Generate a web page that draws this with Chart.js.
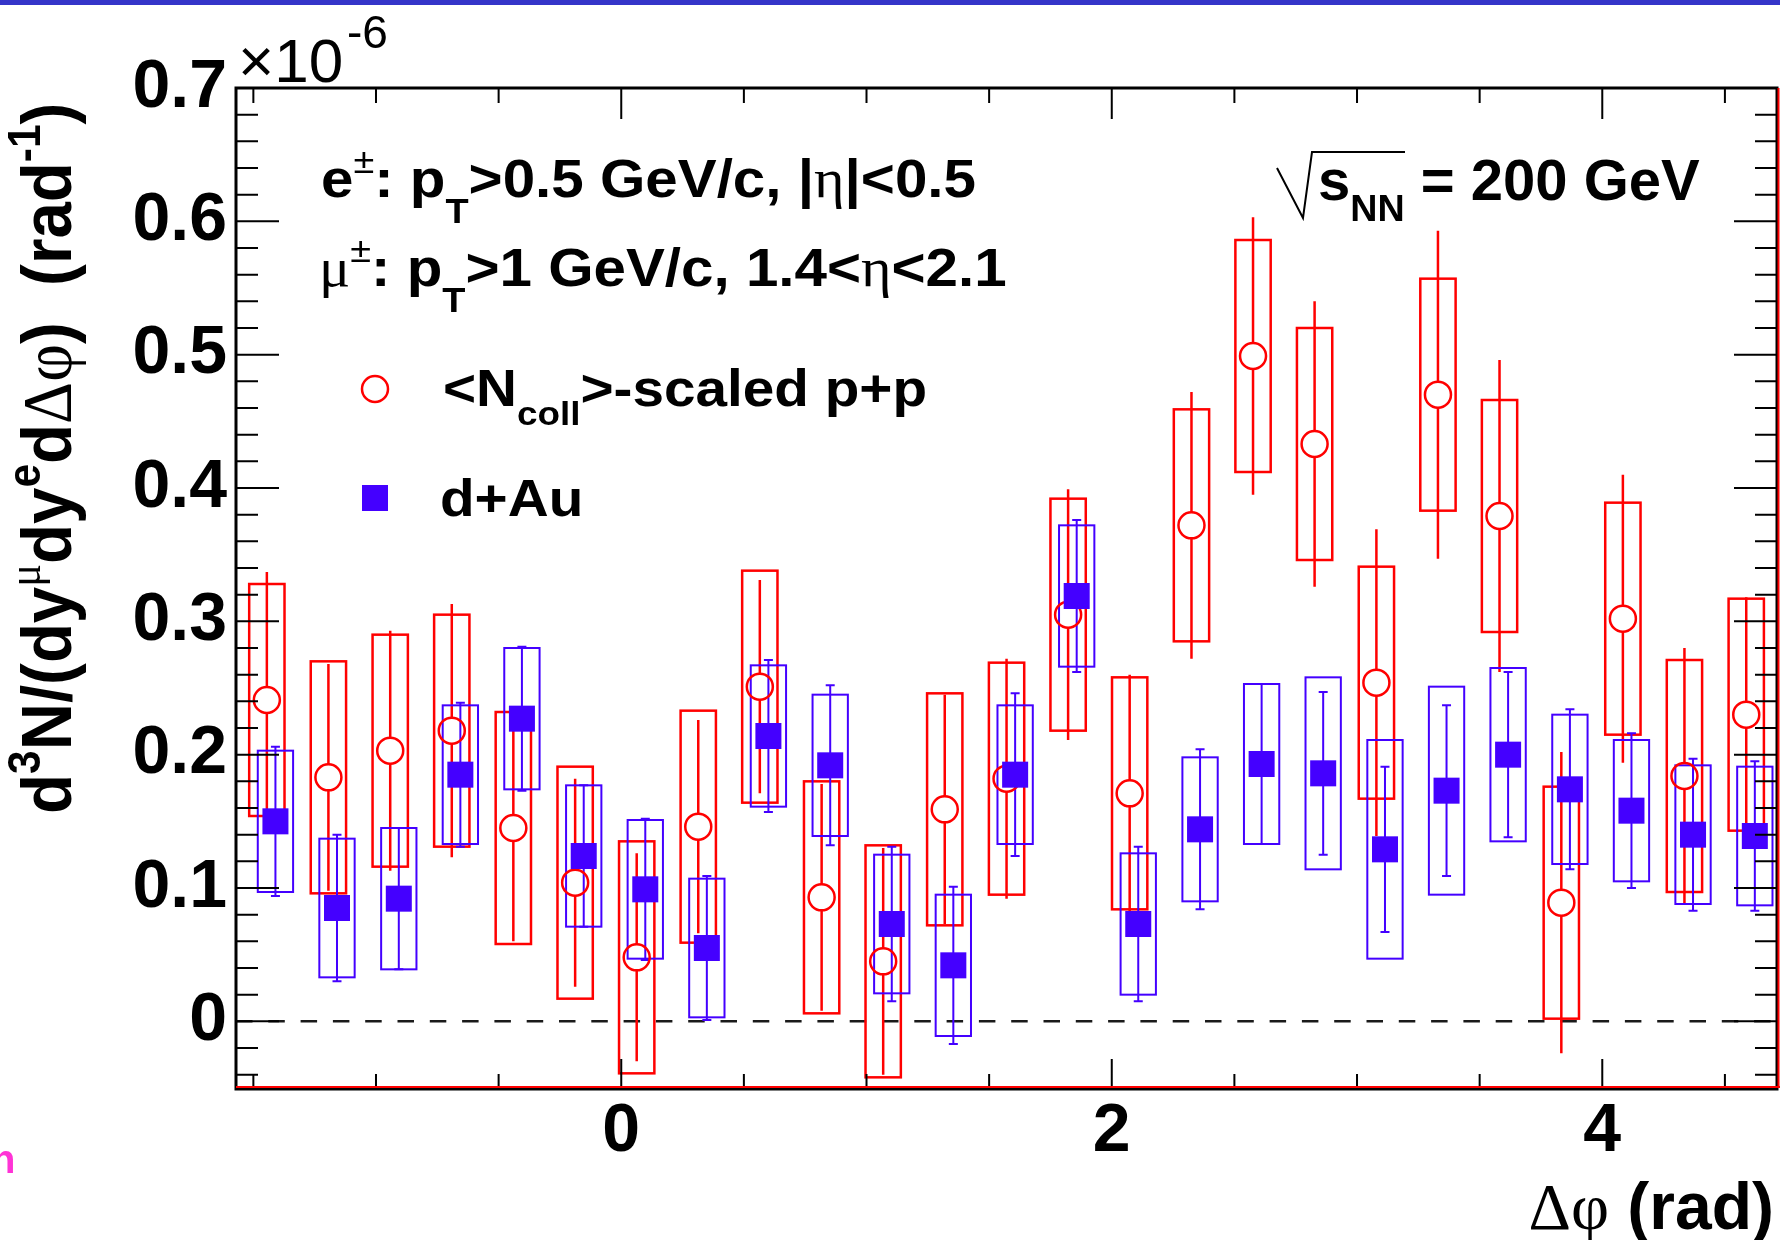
<!DOCTYPE html>
<html>
<head>
<meta charset="utf-8">
<title>e-mu azimuthal correlation, d+Au vs p+p</title>
<script src="https://cdn.jsdelivr.net/npm/chart.js@4.4.1/dist/chart.umd.min.js"></script>
<style>
  html, body { margin: 0; padding: 0; background: #fff; }
  #wrap { position: relative; width: 1780px; height: 1240px; overflow: hidden; }
  #topbar { position: absolute; left: 0; top: 0; width: 100%; height: 5px; background: #3535c9; z-index: 2; }
</style>
</head>
<body>
<div id="wrap">
  <div id="topbar"></div>
  <canvas id="dphiChart" width="1780" height="1240"></canvas>
</div>
<script>
// Δφ bin centres (rad), 25 bins covering [-π/2, 3π/2]
const dphi = [-1.445, -1.194, -0.942, -0.691, -0.440, -0.188, 0.063, 0.314, 0.565, 0.817,
              1.068, 1.319, 1.571, 1.822, 2.073, 2.325, 2.576, 2.827, 3.079, 3.330,
              3.581, 3.833, 4.084, 4.335, 4.587];

// <Ncoll>-scaled p+p, in units of 1e-6 rad^-1
const ppValue = [0.241, 0.183, 0.203, 0.218, 0.145, 0.104, 0.048, 0.146, 0.251, 0.093,
                 0.045, 0.159, 0.182, 0.305, 0.171, 0.372, 0.499, 0.433, 0.254, 0.470,
                 0.379, 0.089, 0.302, 0.184, 0.230];
const ppStat  = [0.096, 0.085, 0.090, 0.095, 0.085, 0.078, 0.078, 0.080, 0.080, 0.085,
                 0.085, 0.086, 0.090, 0.094, 0.089, 0.100, 0.104, 0.107, 0.115, 0.123,
                 0.117, 0.113, 0.108, 0.096, 0.088];
const ppSys   = [0.087, 0.087, 0.087, 0.087, 0.087, 0.087, 0.087, 0.087, 0.087, 0.087,
                 0.087, 0.087, 0.087, 0.087, 0.087, 0.087, 0.087, 0.087, 0.087, 0.087,
                 0.087, 0.087, 0.087, 0.087, 0.087];

// d+Au, same units
const dauValue = [0.150, 0.085, 0.092, 0.185, 0.227, 0.124, 0.099, 0.055, 0.214, 0.192,
                  0.073, 0.042, 0.185, 0.319, 0.073, 0.144, 0.193, 0.186, 0.129, 0.173,
                  0.200, 0.174, 0.158, 0.140, 0.139];
const dauStat  = [0.056, 0.055, 0.053, 0.054, 0.054, 0.053, 0.053, 0.054, 0.057, 0.060,
                  0.058, 0.059, 0.061, 0.057, 0.058, 0.060, 0.060, 0.061, 0.062, 0.064,
                  0.062, 0.060, 0.058, 0.057, 0.056];
const dauSys   = [0.053, 0.052, 0.053, 0.052, 0.053, 0.053, 0.052, 0.052, 0.053, 0.053,
                  0.052, 0.053, 0.052, 0.053, 0.053, 0.054, 0.060, 0.072, 0.082, 0.078,
                  0.065, 0.056, 0.053, 0.052, 0.052];

// axis labels
const xTickLabels = [0, 2, 4];
const yTickLabels = [0, 0.1, 0.2, 0.3, 0.4, 0.5, 0.6, 0.7];

const RED = 'rgb(255, 0, 0)';
const BLUE = 'rgb(68, 0, 255)';
const SANS = '"Liberation Sans", Arial, Helvetica, sans-serif';
const SERIF = '"Liberation Serif", "Times New Roman", serif';
const BOX_HALF = 0.072;   // half width of systematic boxes, rad
const DAU_SHIFT = 0.035;  // d+Au drawn slightly to the right of p+p

const ppStyle  = { shift: 0, color: RED, lineWidth: 2.5, gap: 13, cap: 0 };
const dauStyle = { shift: DAU_SHIFT, color: BLUE, lineWidth: 2, gap: 0, cap: 4.5 };

// ---------- small rich-text helper (super/subscripts, greek in serif) ----------
// style flags: b = bold, g = greek (serif), ^ = superscript, _ = subscript, L = low subscript
function runFont(style, size) {
  const bold = style.includes('b');
  const fam = style.includes('g') ? SERIF : SANS;
  return (bold ? 'bold ' : '') + size + 'px ' + fam;
}

function layoutRich(ctx, runs, size) {
  let w = 0;
  const items = runs.map(([text, style]) => {
    const sup = style.includes('^');
    const sub = style.includes('_') || style.includes('L');
    const s = (sup || sub) ? size * 0.65 : size;
    const font = runFont(style, s);
    ctx.font = font;
    let dy = 0;
    if (sup) dy = -size * 0.45;
    else if (style.includes('L')) dy = size * 0.48;
    else if (sub) dy = size * 0.36;
    const item = { text, font, x: w, dy };
    w += ctx.measureText(text).width;
    return item;
  });
  return { items, width: w };
}

function drawRich(ctx, runs, x, y, size, opts = {}) {
  const { items, width } = layoutRich(ctx, runs, size);
  ctx.save();
  ctx.translate(x, y);
  if (opts.rotate) ctx.rotate(opts.rotate);
  ctx.scale(opts.stretch || 1, 1);
  if (opts.align === 'right') ctx.translate(-width, 0);
  ctx.fillStyle = opts.color || '#000';
  ctx.textAlign = 'left';
  ctx.textBaseline = 'alphabetic';
  items.forEach(it => {
    ctx.font = it.font;
    ctx.fillText(it.text, it.x, it.dy);
  });
  ctx.restore();
}

// ---------- systematic boxes + statistical bars ----------
function drawErrors(chart, vals, stat, sys, st) {
  const { ctx, scales: { x, y } } = chart;
  ctx.save();
  ctx.strokeStyle = st.color;
  ctx.lineWidth = st.lineWidth;
  dphi.forEach((phi, i) => {
    const cx = x.getPixelForValue(phi + st.shift);
    const x0 = x.getPixelForValue(phi + st.shift - BOX_HALF);
    const x1 = x.getPixelForValue(phi + st.shift + BOX_HALF);
    const bTop = y.getPixelForValue(vals[i] + sys[i]);
    const bBot = y.getPixelForValue(vals[i] - sys[i]);
    ctx.strokeRect(x0, bTop, x1 - x0, bBot - bTop);

    const yc = y.getPixelForValue(vals[i]);
    const sTop = y.getPixelForValue(vals[i] + stat[i]);
    const sBot = y.getPixelForValue(vals[i] - stat[i]);
    ctx.beginPath();
    ctx.moveTo(cx, sTop); ctx.lineTo(cx, yc - st.gap);
    ctx.moveTo(cx, yc + st.gap); ctx.lineTo(cx, sBot);
    if (st.cap) {
      ctx.moveTo(cx - st.cap, sTop); ctx.lineTo(cx + st.cap, sTop);
      ctx.moveTo(cx - st.cap, sBot); ctx.lineTo(cx + st.cap, sBot);
    }
    ctx.stroke();
  });
  ctx.restore();
}

const plotDecor = {
  id: 'plotDecor',
  beforeDatasetsDraw(chart) {
    const { ctx, chartArea: a, scales: { y } } = chart;
    // dashed line at zero
    const y0 = y.getPixelForValue(0);
    ctx.save();
    ctx.strokeStyle = '#1a1a1a';
    ctx.lineWidth = 2.5;
    ctx.setLineDash([16.5, 15.8]);
    ctx.beginPath();
    ctx.moveTo(a.left, y0);
    ctx.lineTo(a.right, y0);
    ctx.stroke();
    ctx.restore();

    drawErrors(chart, ppValue, ppStat, ppSys, ppStyle);
    drawErrors(chart, dauValue, dauStat, dauSys, dauStyle);
  },
  afterDatasetsDraw(chart) {
    const { ctx, chartArea: a, scales: { x, y } } = chart;
    ctx.save();
    ctx.strokeStyle = '#000';
    ctx.lineWidth = 2;
    ctx.beginPath();
    // y ticks every 0.02, long ones every 0.1, left and right edges pointing in
    for (let i = -2; i <= 35; i++) {
      const py = y.getPixelForValue(i * 0.02);
      const len = i % 5 === 0 ? 43 : 22;
      ctx.moveTo(a.left, py); ctx.lineTo(a.left + len, py);
      ctx.moveTo(a.right, py); ctx.lineTo(a.right - len, py);
    }
    // x ticks every 0.5, long ones at the labelled values
    for (let i = -3; i <= 9; i++) {
      const v = i * 0.5;
      const px = x.getPixelForValue(v);
      const major = xTickLabels.includes(v);
      ctx.moveTo(px, a.bottom); ctx.lineTo(px, a.bottom - (major ? 29 : 14));
      ctx.moveTo(px, a.top); ctx.lineTo(px, a.top + (major ? 31 : 15));
    }
    ctx.stroke();

    // frame
    ctx.lineWidth = 3;
    ctx.strokeRect(a.left, a.top, a.right - a.left, a.bottom - a.top + 1);
    ctx.strokeStyle = RED;
    ctx.lineWidth = 2;
    ctx.beginPath();
    ctx.moveTo(a.left, a.bottom - 1); ctx.lineTo(chart.width, a.bottom - 1);
    ctx.moveTo(a.right + 1.5, a.top); ctx.lineTo(a.right + 1.5, a.bottom);
    ctx.stroke();
    ctx.restore();
  },
  afterDraw(chart) {
    const { ctx } = chart;

    // exponent of the y axis
    ctx.save();
    ctx.fillStyle = '#000';
    ctx.font = '62px ' + SANS;
    ctx.fillText('\u00d710', 238, 82);
    ctx.font = '46px ' + SANS;
    ctx.fillText('-6', 347, 48);
    ctx.restore();

    // cuts
    drawRich(ctx, [['e', 'b'], ['\u00b1', '^'], [': p', 'b'], ['T', 'Lb'],
                   ['>0.5 GeV/c, |', 'b'], ['\u03b7', 'g'], ['|<0.5', 'b']],
             321, 197, 54, { stretch: 1.08 });
    drawRich(ctx, [['\u03bc', 'g'], ['\u00b1', '^'], [': p', 'b'], ['T', 'Lb'],
                   ['>1 GeV/c, 1.4<', 'b'], ['\u03b7', 'g'], ['<2.1', 'b']],
             319, 286, 54, { stretch: 1.08 });

    // energy label with a drawn radical
    ctx.save();
    ctx.strokeStyle = '#000';
    ctx.lineWidth = 2;
    ctx.beginPath();
    ctx.moveTo(1277, 168); ctx.lineTo(1303, 218); ctx.lineTo(1312, 152); ctx.lineTo(1405, 152);
    ctx.stroke();
    ctx.restore();
    drawRich(ctx, [['s', 'b'], ['NN', '_b'], [' = 200 GeV', 'b']], 1318, 200, 58);

    // legend
    const legendX = 375;
    ctx.save();
    ctx.strokeStyle = RED;
    ctx.lineWidth = 2.5;
    ctx.beginPath();
    ctx.arc(legendX, 389, 13, 0, Math.PI * 2);
    ctx.stroke();
    ctx.fillStyle = BLUE;
    ctx.fillRect(legendX - 13, 485, 26, 26);
    ctx.restore();
    drawRich(ctx, [['<N', 'b'], ['coll', '_b'], ['>-scaled p+p', 'b']], 443, 406, 52, { stretch: 1.09 });
    drawRich(ctx, [['d+Au', 'b']], 440, 516, 52, { stretch: 1.09 });

    // axis titles
    drawRich(ctx, [['\u0394\u03c6', 'g'], [' (rad)', 'b']], 1774, 1229, 66, { align: 'right' });
    drawRich(ctx, [['d', 'b'], ['3', '^b'], ['N/(dy', 'b'], ['\u03bc', '^g'], ['dy', 'b'], ['e', '^b'],
                   ['d', 'b'], ['\u0394\u03c6', 'g'], [')  (rad', 'b'], ['-1', '^b'], [')', 'b']],
             71, 814, 70, { rotate: -Math.PI / 2, stretch: 0.935 });

    // stray slide text at the lower left edge
    ctx.save();
    ctx.fillStyle = '#ff33d6';
    ctx.font = 'bold 40px ' + SANS;
    ctx.fillText('n', -9, 1173);
    ctx.restore();
  }
};

const tickFont = { family: 'Liberation Sans', size: 68, weight: 'bold' };

new Chart(document.getElementById('dphiChart'), {
  type: 'scatter',
  data: {
    datasets: [
      {
        label: '<Ncoll>-scaled p+p',
        data: dphi.map((x, i) => ({ x, y: ppValue[i] })),
        pointStyle: 'circle',
        pointRadius: 13,
        pointHoverRadius: 13,
        borderColor: RED,
        borderWidth: 2.5,
        backgroundColor: 'rgba(0,0,0,0)',
        order: 2
      },
      {
        label: 'd+Au',
        data: dphi.map((x, i) => ({ x: x + DAU_SHIFT, y: dauValue[i] })),
        pointStyle: 'rect',
        pointRadius: 18.4,
        pointHoverRadius: 18.4,
        borderWidth: 0,
        borderColor: BLUE,
        backgroundColor: BLUE,
        order: 1
      }
    ]
  },
  options: {
    responsive: false,
    devicePixelRatio: 1,
    animation: false,
    events: [],
    layout: { autoPadding: false, padding: { left: 0, top: 88, right: 3, bottom: 0 } },
    plugins: { legend: { display: false }, tooltip: { enabled: false } },
    scales: {
      x: {
        type: 'linear',
        min: -Math.PI / 2,
        max: 3 * Math.PI / 2,
        grid: { display: false, drawTicks: false },
        border: { display: false },
        afterBuildTicks: s => { s.ticks = xTickLabels.map(v => ({ value: v })); },
        afterFit: s => { s.height = 152; s.paddingLeft = 0; s.paddingRight = 0; },
        ticks: { font: tickFont, color: '#000', padding: 3, maxRotation: 0, callback: v => String(v) }
      },
      y: {
        type: 'linear',
        min: -0.05,
        max: 0.7,
        grid: { display: false, drawTicks: false },
        border: { display: false },
        afterBuildTicks: s => { s.ticks = yTickLabels.map(v => ({ value: v })); },
        afterFit: s => { s.width = 236; s.paddingTop = 0; s.paddingBottom = 0; },
        ticks: { font: tickFont, color: '#000', padding: 9, callback: v => (v === 0 ? '0' : v.toFixed(1)) }
      }
    }
  },
  plugins: [plotDecor]
});
</script>
</body>
</html>
